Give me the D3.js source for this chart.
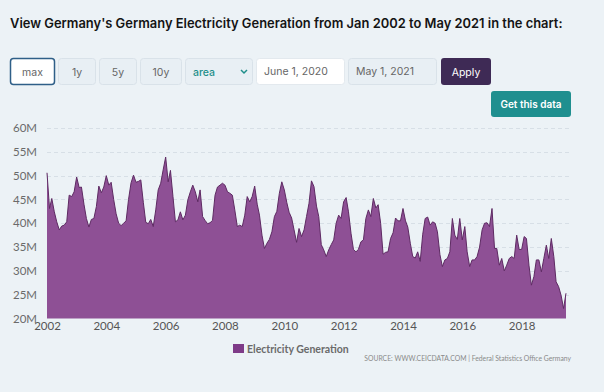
<!DOCTYPE html>
<html><head><meta charset="utf-8">
<script src="https://cdn.jsdelivr.net/npm/d3@7"></script>
<style>
html,body{margin:0;padding:0;background:#ecf2f6;}
svg{display:block;}
</style></head>
<body>
<svg id="c" width="604" height="392"></svg>
<script>
// ---- data ----
const startMonth = "2002-01";
const seriesName = "Electricity Generation";
const values = [
50.6,43.1,45.2,42.4,40.3,38.6,39.4,39.6,40.3,45.9,45.6,46.6,
49.7,47.5,47.6,44.0,41.0,39.2,40.8,41.0,43.5,47.8,46.4,47.6,
50.0,48.0,48.6,45.0,42.0,40.0,39.5,40.0,40.5,45.0,48.5,50.1,
48.6,48.8,49.1,44.4,40.2,39.9,40.8,39.3,42.8,47.0,48.4,51.2,
53.9,48.7,51.1,45.6,40.3,40.7,42.4,40.7,41.7,44.9,46.6,48.0,
46.6,44.5,47.0,41.4,40.6,39.9,40.1,40.6,45.9,47.6,48.0,48.4,
48.0,46.6,46.3,45.9,42.8,39.3,39.6,39.3,41.7,45.6,44.5,45.6,
47.8,44.0,41.7,37.5,34.7,35.8,36.6,38.2,41.4,42.5,46.3,48.7,
47.0,44.3,42.3,41.1,38.6,36.0,38.9,37.2,38.6,41.4,44.2,48.9,
47.7,43.6,41.4,35.5,34.4,33.0,34.4,35.5,36.5,40.0,41.7,41.0,
44.5,45.4,42.4,37.9,34.5,34.0,34.5,36.1,36.5,41.0,42.8,41.4,
45.2,43.2,43.9,40.0,33.5,33.9,34.0,36.8,38.0,41.1,40.5,40.5,
43.1,40.5,39.2,35.8,33.0,32.7,34.0,32.0,37.7,41.0,41.3,39.6,
40.3,40.0,38.2,33.4,30.9,32.3,32.6,34.0,41.0,37.5,36.6,41.0,
36.5,39.3,34.0,30.9,32.3,32.3,33.0,35.0,38.6,40.0,40.1,39.3,
43.1,34.7,34.7,31.2,32.6,30.0,31.2,32.6,33.0,32.6,37.5,34.5,
34.5,37.2,36.8,31.2,27.0,28.8,32.3,32.3,29.8,32.6,35.4,32.6,
36.8,33.0,27.7,26.7,24.9,22.1,25.3
];
const yTicks = [20,25,30,35,40,45,50,55,60];
const xTickYears = [2002,2004,2006,2008,2010,2012,2014,2016,2018];
const titleText = "View Germany's Germany Electricity Generation from Jan 2002 to May 2021 in the chart:";
const buttonLabels = ["max","1y","5y","10y"];
const chartType = "area";
const dateFrom = "June 1, 2020";
const dateTo = "May 1, 2021";
const sourceText = "SOURCE: WWW.CEICDATA.COM | Federal Statistics Office Germany";

// ---- build ----
const parse = d3.timeParse("%Y-%m");
const t0 = parse(startMonth);
const data = values.map((v,i)=>({date:d3.timeMonth.offset(t0,i), value:v}));

const svg = d3.select("#c");
const FONT = "Lato, 'Open Sans', sans-serif";
const UIFONT = "Inter, 'Open Sans', sans-serif";

// title
const title = svg.append("text").attr("x",10).attr("y",28)
  .attr("font-family","Inter, 'Liberation Sans', sans-serif").attr("font-weight",600)
  .attr("font-size",16).attr("fill","#141414").text(titleText);
const tw = title.node().getComputedTextLength();
title.attr("font-size", 16*553/tw);

// controls
const ctrl = svg.append("g").attr("font-family",UIFONT).attr("font-size",10.5);
const btns = [
  {x:10,w:44,sel:true},
  {x:58,w:37},
  {x:99,w:37},
  {x:140,w:41}
];
btns.forEach((b,i)=>{
  ctrl.append("rect").attr("x",b.x+0.5).attr("y",58.5).attr("width",b.w).attr("height",26).attr("rx",3)
    .attr("fill", b.sel ? "#ffffff" : "#e8eff4")
    .attr("stroke", b.sel ? "#2f5f88" : "#d9e2e9").attr("stroke-width", b.sel?1.5:1);
  ctrl.append("text").attr("x",b.x+b.w/2+0.5).attr("y",75.5).attr("text-anchor","middle")
    .attr("fill","#666").text(buttonLabels[i]);
});
// select
ctrl.append("rect").attr("x",185.5).attr("y",58.5).attr("width",67).attr("height",26).attr("rx",3)
  .attr("fill","#e8eff4").attr("stroke","#d9e2e9");
ctrl.append("text").attr("x",193).attr("y",75.5).attr("fill","#1f8f8a").attr("font-weight",500).text(chartType);
ctrl.append("path").attr("d","M241,70 l3,3 l3,-3").attr("fill","none").attr("stroke","#1f8f8a").attr("stroke-width",1.5);
// date inputs
ctrl.append("rect").attr("x",256.5).attr("y",58.5).attr("width",88).attr("height",26).attr("rx",3)
  .attr("fill","#ffffff").attr("stroke","#e3e9ee");
ctrl.append("text").attr("x",264).attr("y",75).attr("fill","#666").text(dateFrom);
ctrl.append("rect").attr("x",348.5).attr("y",58.5).attr("width",88).attr("height",26).attr("rx",3)
  .attr("fill","#e8eff4").attr("stroke","#d9e2e9");
ctrl.append("text").attr("x",356).attr("y",75).attr("fill","#666").text(dateTo);
// apply
ctrl.append("rect").attr("x",441).attr("y",58).attr("width",50).attr("height",27).attr("rx",3)
  .attr("fill","#3e2a55");
ctrl.append("text").attr("x",466).attr("y",75.5).attr("text-anchor","middle").attr("fill","#fff").text("Apply");
// get data
ctrl.append("rect").attr("x",491).attr("y",91).attr("width",80).attr("height",26).attr("rx",3)
  .attr("fill","#1f8f8f");
ctrl.append("text").attr("x",531).attr("y",108).attr("text-anchor","middle").attr("fill","#fff")
  .attr("font-weight",600).attr("font-size",10).text("Get this data");

// scales
const x = d3.scaleTime().domain([t0, data[data.length-1].date]).range([47,566]);
const y = d3.scaleLinear().domain([20,60]).range([318.5,128]);

// grid
svg.append("g").selectAll("line").data(yTicks.filter(d=>d>20)).join("line")
  .attr("x1",47).attr("x2",571).attr("y1",d=>Math.round(y(d))+0.5).attr("y2",d=>Math.round(y(d))+0.5)
  .attr("stroke","#d7dfe6").attr("stroke-dasharray","4,3");

// area
const area = d3.area().x(d=>x(d.date)).y0(y(20)).y1(d=>y(d.value));
const line = d3.line().x(d=>x(d.date)).y(d=>y(d.value));
svg.append("path").datum(data).attr("d",area).attr("fill","#8e5095");
svg.append("path").datum(data).attr("d",line).attr("fill","none").attr("stroke","#5e2a63").attr("stroke-width",1);

// y axis
const yAxis = d3.axisLeft(y).tickValues(yTicks).tickFormat(d=>d+"M").tickSize(0).tickPadding(0);
const gy = svg.append("g").attr("transform","translate(37,0)").call(yAxis);
gy.select(".domain").remove();
gy.selectAll("text").attr("font-family",FONT).attr("font-size",11.5).attr("fill","#6a6a6a");

// x axis
const xAxis = d3.axisBottom(x).tickValues(xTickYears.map(yv=>new Date(yv,0,1))).tickFormat(d3.timeFormat("%Y")).tickSize(0).tickPadding(3);
const gx = svg.append("g").attr("transform","translate(0,319)").call(xAxis);
gx.select(".domain").remove();
gx.selectAll("text").attr("font-family",FONT).attr("font-size",11.5).attr("fill","#555");

// legend
svg.append("rect").attr("x",233).attr("y",344).attr("width",11).attr("height",9).attr("fill","#7e3b88");
svg.append("text").attr("x",247).attr("y",352.5).attr("font-family",FONT).attr("font-weight",700)
  .attr("font-size",10.5).attr("fill","#6a6a6a").text(seriesName);
// source
svg.append("text").attr("x",571).attr("y",361).attr("text-anchor","end").attr("font-family",FONT)
  .attr("font-size",6.8).attr("fill","#8a8a8a").text(sourceText);
</script>
</body></html>
